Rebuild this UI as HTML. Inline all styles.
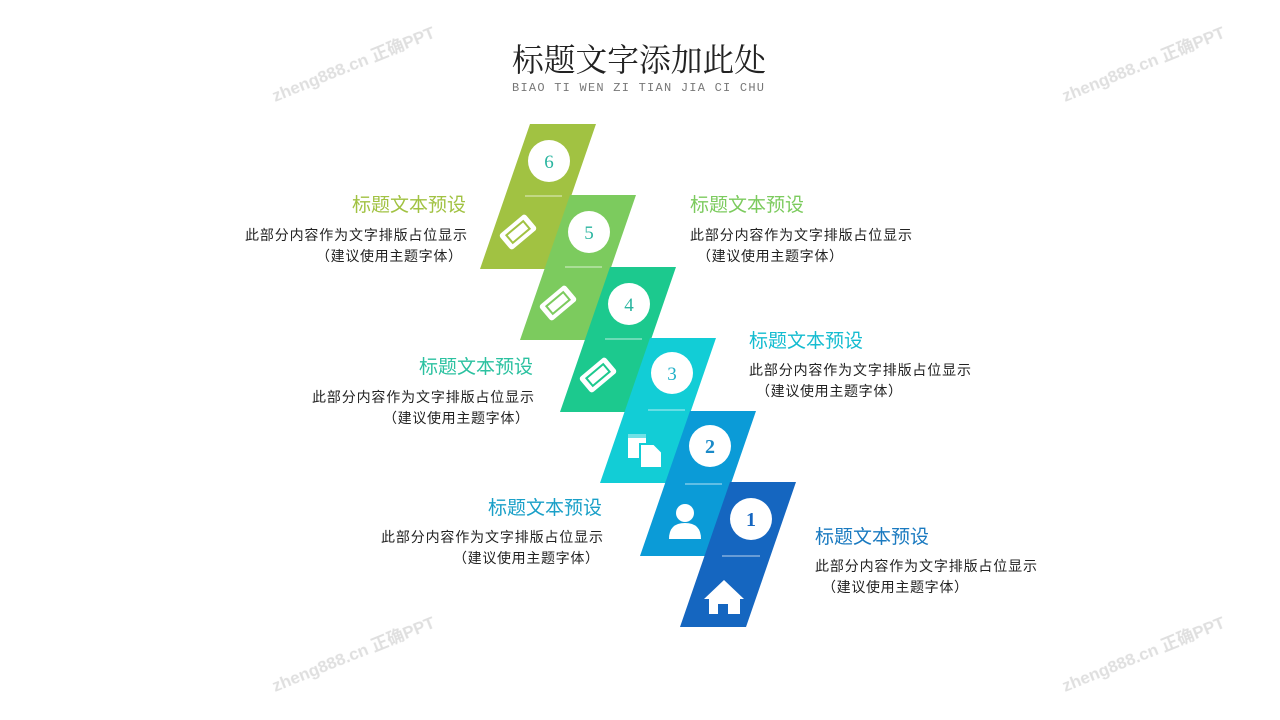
<!DOCTYPE html>
<html><head><meta charset="utf-8"><style>
body{margin:0;background:#fff;}
svg{display:block;}
</style></head><body>
<svg width="1280" height="720" viewBox="0 0 1280 720" xmlns="http://www.w3.org/2000/svg">
<g font-family="Liberation Sans, Noto Sans CJK SC, sans-serif" font-size="17" font-weight="bold" fill="#d8d8d8" opacity="0.8">
<text transform="translate(275,102) rotate(-22)">zheng888.cn 正确PPT</text>
<text transform="translate(1065,102) rotate(-22)">zheng888.cn 正确PPT</text>
<text transform="translate(275,692) rotate(-22)">zheng888.cn 正确PPT</text>
<text transform="translate(1065,692) rotate(-22)">zheng888.cn 正确PPT</text>
</g>
<text x="512" y="71" textLength="254" lengthAdjust="spacingAndGlyphs" font-family="Liberation Serif, Noto Serif CJK SC, serif" font-size="32" fill="#222">标题文字添加此处</text>
<text x="512" y="91" textLength="252" font-family="Liberation Mono, monospace" font-size="12" fill="#777">BIAO TI WEN ZI TIAN JIA CI CHU</text>

<g font-family="Liberation Serif, serif">
<g transform="translate(530,124)">
<polygon points="0,0 66,0 16,145 -50,145" fill="#a1c242"/>
<circle cx="19" cy="37" r="21" fill="#fff"/><text x="19" y="44" text-anchor="middle" font-size="19" fill="#2ab5a0">6</text>
<line x1="-5" y1="72" x2="32" y2="72" stroke="#fff" stroke-opacity="0.7" stroke-width="1"/>
<g transform="translate(-12,108) rotate(-40)"><rect x="-17" y="-10" width="34" height="20" rx="3" fill="#fff"/><rect x="-11" y="-5" width="22" height="10" fill="none" stroke="#a1c242" stroke-width="2"/></g>
</g>
<g transform="translate(570,195)">
<polygon points="0,0 66,0 16,145 -50,145" fill="#7ccb5e"/>
<circle cx="19" cy="37" r="21" fill="#fff"/><text x="19" y="44" text-anchor="middle" font-size="19" fill="#2ab5a0">5</text>
<line x1="-5" y1="72" x2="32" y2="72" stroke="#fff" stroke-opacity="0.7" stroke-width="1"/>
<g transform="translate(-12,108) rotate(-40)"><rect x="-17" y="-10" width="34" height="20" rx="3" fill="#fff"/><rect x="-11" y="-5" width="22" height="10" fill="none" stroke="#7ccb5e" stroke-width="2"/></g>
</g>
<g transform="translate(610,267)">
<polygon points="0,0 66,0 16,145 -50,145" fill="#1cc98e"/>
<circle cx="19" cy="37" r="21" fill="#fff"/><text x="19" y="44" text-anchor="middle" font-size="19" fill="#2ab5a0">4</text>
<line x1="-5" y1="72" x2="32" y2="72" stroke="#fff" stroke-opacity="0.7" stroke-width="1"/>
<g transform="translate(-12,108) rotate(-40)"><rect x="-17" y="-10" width="34" height="20" rx="3" fill="#fff"/><rect x="-11" y="-5" width="22" height="10" fill="none" stroke="#1cc98e" stroke-width="2"/></g>
</g>
<g transform="translate(650,338)">
<polygon points="0,0 66,0 16,145 -50,145" fill="#12cdd6"/>
<circle cx="22" cy="35" r="21" fill="#fff"/><text x="22" y="42" text-anchor="middle" font-size="19" fill="#20b0c8">3</text>
<line x1="-2" y1="72" x2="35" y2="72" stroke="#fff" stroke-opacity="0.7" stroke-width="1"/>
<rect x="-22" y="96" width="18" height="24" fill="#fff"/><rect x="-22" y="96" width="18" height="4" fill="#12cdd6" opacity="0.6"/>
<polygon points="-10,106 4,106 12,114 12,130 -10,130" fill="#fff" stroke="#12cdd6" stroke-width="2"/>
</g>
<g transform="translate(690,411)">
<polygon points="0,0 66,0 16,145 -50,145" fill="#0b9bd7"/>
<circle cx="20" cy="35" r="21" fill="#fff"/><text x="20" y="42" text-anchor="middle" font-size="20" font-weight="bold" fill="#1a8ac8">2</text>
<line x1="-5" y1="73" x2="32" y2="73" stroke="#fff" stroke-opacity="0.7" stroke-width="1"/>
<circle cx="-5" cy="102" r="9" fill="#fff"/><path d="M-21,128 Q-21,112 -5,112 Q11,112 11,128 Z" fill="#fff"/>
</g>
<g transform="translate(730,482)">
<polygon points="0,0 66,0 16,145 -50,145" fill="#1566c0"/>
<circle cx="21" cy="37" r="21" fill="#fff"/><text x="21" y="44" text-anchor="middle" font-size="20" font-weight="bold" fill="#1566c0">1</text>
<line x1="-8" y1="74" x2="30" y2="74" stroke="#fff" stroke-opacity="0.7" stroke-width="1"/>
<polygon points="-6,98 -26,117 -21,117 -21,132 -12,132 -12,122 -2,122 -2,132 10,132 10,117 14,117" fill="#fff"/>
</g>
</g>

<g font-family="Liberation Sans, Noto Sans CJK SC, sans-serif">
<g font-size="19">
<text x="352" y="211" textLength="114" fill="#a1c242">标题文本预设</text>
<text x="690" y="211" textLength="114" fill="#7ccb5e">标题文本预设</text>
<text x="419" y="373" textLength="114" fill="#2bc1a0">标题文本预设</text>
<text x="749" y="347" textLength="114" fill="#14bcd0">标题文本预设</text>
<text x="488" y="514" textLength="114" fill="#1aa0c8">标题文本预设</text>
<text x="815" y="543" textLength="114" fill="#1a7ac0">标题文本预设</text>
</g>
<g font-size="14" fill="#222">
<text x="245" y="240" textLength="222">此部分内容作为文字排版占位显示</text>
<text x="316" y="261" textLength="146">（建议使用主题字体）</text>
<text x="690" y="240" textLength="222">此部分内容作为文字排版占位显示</text>
<text x="697" y="261" textLength="146">（建议使用主题字体）</text>
<text x="312" y="402" textLength="222">此部分内容作为文字排版占位显示</text>
<text x="383" y="423" textLength="146">（建议使用主题字体）</text>
<text x="749" y="375" textLength="222">此部分内容作为文字排版占位显示</text>
<text x="756" y="396" textLength="146">（建议使用主题字体）</text>
<text x="381" y="542" textLength="222">此部分内容作为文字排版占位显示</text>
<text x="453" y="563" textLength="146">（建议使用主题字体）</text>
<text x="815" y="571" textLength="222">此部分内容作为文字排版占位显示</text>
<text x="822" y="592" textLength="146">（建议使用主题字体）</text>
</g>
</g>
</svg>
</body></html>
